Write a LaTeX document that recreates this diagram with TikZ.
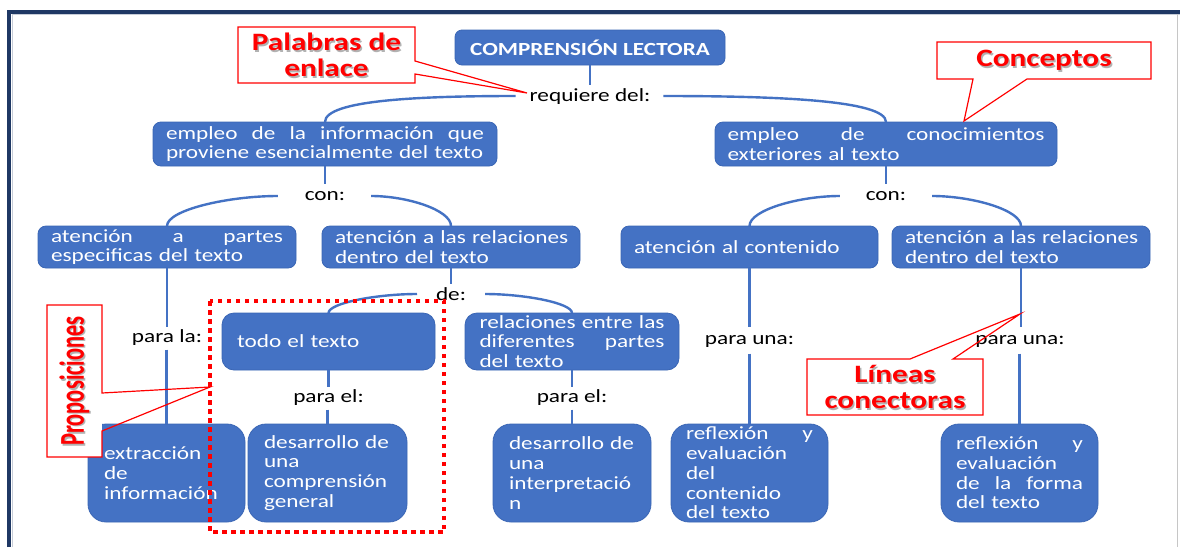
\documentclass[tikz,border=0pt]{standalone}
\usepackage{fontspec}
\usepackage{graphicx}
\setmainfont{Carlito}[FakeStretch=1.25]
\newfontfamily\propfont{Carlito}[FakeStretch=1.0]
\usetikzlibrary{calc}
\definecolor{boxblue}{HTML}{4472C4}
\definecolor{boxedge}{HTML}{3A66B5}
\definecolor{navy}{HTML}{1F3864}
\definecolor{callred}{HTML}{FF0000}
\newcommand{\jl}[2]{\leavevmode\hbox to #1{\spaceskip=0.2em plus 1fil\relax #2}}
\hyphenpenalty=10000
\exhyphenpenalty=10000
\begin{document}
\begin{tikzpicture}[x=1pt,y=-1pt,
  every node/.style={inner sep=0pt, outer sep=0pt},
  cbox/.style={rectangle, rounded corners=#1, fill=boxblue, draw=boxedge, line width=0.8pt,
    text=white, align=left, font=\fontsize{18.6}{19.75}\selectfont},
  cbox/.default=8pt,
  word/.style={text=black, font=\fontsize{18.6}{20}\selectfont, text height=13pt, text depth=4pt,
    inner xsep=0pt, inner ysep=4pt},
  link/.style={draw=boxblue, line width=2.4pt},
  callbox/.style={rectangle},
  callout/.style={draw=callred, line width=1.2pt, line join=miter},
  redtxt/.style={text=callred, align=center, font=\fontsize{25}{26}\selectfont\bfseries},
  redshadow/.style={text=black!30, align=center, font=\fontsize{25}{26}\selectfont\bfseries},
]
\useasboundingbox (0,0) rectangle (1180,547);
\fill[white] (0,0) rectangle (1180,547);
% frame
\draw[navy!25, line width=0.8pt] (12.5,547) -- (12.5,14.5) -- (1180,14.5);
\draw[navy, line width=3.6pt] (9.2,547) -- (9.2,11.7) -- (1180,11.7);
\draw[gray!45, line width=1pt] (1177,14) -- (1177,547);

% concept boxes
\node[cbox=7pt, minimum width=270pt, minimum height=35pt, align=center,
  font=\fontsize{18.5}{20}\selectfont\bfseries] (title) at (590,47.5) {COMPRENSIÓN LECTORA};
\node[cbox, minimum width=344pt, minimum height=44pt, text width=318pt] (A) at (325,144)
  {\jl{318pt}{empleo de la información que}\\\mbox{proviene esencialmente del texto}};
\node[cbox, minimum width=342pt, minimum height=44pt, text width=317pt] (B) at (886,144)
  {\jl{317pt}{empleo de conocimientos}\\exteriores al texto};
\node[cbox, minimum width=258pt, minimum height=42pt, text width=232pt] (C) at (167,247)
  {\jl{232pt}{atención a partes}\\\mbox{especificas del texto}};
\node[cbox, minimum width=258pt, minimum height=42pt, text width=232pt] (D) at (451,247)
  {\mbox{atención a las relaciones}\\dentro del texto};
\node[cbox, minimum width=257pt, minimum height=42pt, text width=231pt] (E) at (749.5,247)
  {\mbox{atención al contenido}};
\node[cbox, minimum width=258pt, minimum height=42pt, text width=232pt] (F) at (1021,247)
  {\mbox{atención a las relaciones}\\dentro del texto};
\node[cbox=12pt, minimum width=213pt, minimum height=57pt, text width=183pt] (G) at (328.5,341.5)
  {todo el texto};
\node[cbox=12pt, minimum width=214pt, minimum height=57pt, text width=185pt] (H) at (572,341.5)
  {\jl{185pt}{relaciones entre las}\\\jl{185pt}{diferentes partes}\\del texto};
\node[cbox=18pt, minimum width=157pt, minimum height=98pt, text width=125pt] (I) at (166.5,473)
  {extracción\\de\\\mbox{información}};
\node[cbox=18pt, minimum width=159pt, minimum height=98pt, text width=127pt] (J) at (327.5,473)
  {\mbox{desarrollo de}\\una\\\mbox{comprensión}\\general};
\node[cbox=18pt, minimum width=158pt, minimum height=98pt, text width=126pt] (K) at (572,473)
  {\mbox{desarrollo de}\\una\\\mbox{interpretació}\\n};
\node[cbox=18pt, minimum width=157pt, minimum height=98pt, text width=127pt] (L) at (749.5,473)
  {\jl{127pt}{reflexión y}\\evaluación\\del\\contenido\\\mbox{del texto}};
\node[cbox=18pt, minimum width=157pt, minimum height=98pt, text width=127pt] (M) at (1019.5,473)
  {\jl{127pt}{reflexión y}\\evaluación\\\jl{127pt}{de la forma}\\\mbox{del texto}};

% linking words
\node[word] (req) at (590,97) {requiere del:};
\node[word] (con1) at (325,196) {con:};
\node[word] (con2) at (886,196) {con:};
\node[word] (de) at (451,296) {de:};
\node[word, inner ysep=3pt] (parala) at (167,338) {para la:};
\node[word, inner ysep=3pt] (parael1) at (328.5,398) {para el:};
\node[word, inner ysep=3pt] (parael2) at (572,398) {para el:};
\node[word, inner ysep=5pt] (paraunaL) at (749.5,340) {para una:};
\node[word, inner ysep=5pt] (paraunaR) at (1020,340) {para una:};

% connectors
\coordinate (rl) at ($(req.west)+(-14,-1)$);
\coordinate (rr) at ($(req.east)+(13,-1)$);
\coordinate (c1l) at ($(con1.west)+(-27,0)$);
\coordinate (c1r) at ($(con1.east)+(26,0)$);
\coordinate (c2l) at ($(con2.west)+(-26,0)$);
\coordinate (c2r) at ($(con2.east)+(26,0)$);
\coordinate (dl) at ($(de.west)+(-19,-2)$);
\coordinate (dr) at ($(de.east)+(19,-2)$);

\draw[link] (title.south) -- (title.south |- req.north);
\draw[link] (rl) .. controls ($(rl)!0.5!(A.north |- rl)$) and ($(A.north)+(0,-22)$) .. (A.north);
\draw[link] (rr) .. controls ($(rr)!0.5!(B.north |- rr)$) and ($(B.north)+(0,-22)$) .. (B.north);

\draw[link] (A.south) -- (A.south |- con1.north);
\draw[link] (c1l) .. controls ($(c1l)!0.45!(C.north |- c1l)$) and ($(C.north)+(0,-16)$) .. (C.north);
\draw[link] (c1r) .. controls ($(c1r)!0.45!(D.north |- c1r)$) and ($(D.north)+(0,-16)$) .. (D.north);

\draw[link] (B.south) -- (B.south |- con2.north);
\draw[link] (c2l) .. controls ($(c2l)!0.45!(E.north |- c2l)$) and ($(E.north)+(0,-16)$) .. (E.north);
\draw[link] (c2r) .. controls ($(c2r)!0.45!(F.north |- c2r)$) and ($(F.north)+(0,-16)$) .. (F.north);

\draw[link] (C.south) -- (C.south |- parala.north);
\draw[link] (I.north |- parala.south) -- (I.north);

\draw[link] (D.south) -- (D.south |- de.north);
\draw[link] (dl) .. controls ($(dl)!0.45!(G.north |- dl)$) and ($(G.north)+(0,-10)$) .. (G.north);
\draw[link] (dr) .. controls ($(dr)!0.45!(H.north |- dr)$) and ($(H.north)+(0,-10)$) .. (H.north);

\draw[link] (G.south) -- (G.south |- parael1.north);
\draw[link] (J.north |- parael1.south) -- (J.north);
\draw[link] (H.south) -- (H.south |- parael2.north);
\draw[link] (K.north |- parael2.south) -- (K.north);

\draw[link] (E.south) -- (E.south |- paraunaL.north);
\draw[link] (L.north |- paraunaL.south) -- (L.north);
\draw[link] (F.south) -- (F.south |- paraunaR.north);
\draw[link] (M.north |- paraunaR.south) -- (M.north);

% callout: Palabras de enlace
\node[callbox, minimum width=177pt, minimum height=56pt] (pal) at (326.5,55) {};
\coordinate (palb1) at (415,61);
\coordinate (palb2) at (415,74);
\coordinate (paltip) at (527,93);
\fill[white] (pal.north west) rectangle (pal.south east);
\draw[callout] (pal.north west) -- (pal.north east) -- (pal.east |- palb1) -- (paltip)
  -- (pal.east |- palb2) -- (pal.south east) -- (pal.south west) -- cycle;
\node[redshadow] (palS) at ($(pal)+(1.5,1.5)$) {Palabras de\\enlace};
\node[redtxt] (palT) at (pal) {Palabras de\\enlace};

% callout: Conceptos
\node[callbox, minimum width=214pt, minimum height=37pt] (conc) at (1044,60.5) {};
\coordinate (concb1) at (973,79);
\coordinate (concb2) at (1027,79);
\coordinate (conctip) at (964,121);
\fill[white] (conc.north west) rectangle (conc.south east);
\draw[callout] (conc.north west) -- (conc.north east) -- (conc.south east) -- (concb2)
  -- (conctip) -- (concb1) -- (conc.south west) -- cycle;
\node[redshadow] (concS) at ($(conc)+(1.5,1.5)$) {Conceptos};
\node[redtxt] (concT) at (conc) {Conceptos};

% callout: Proposiciones
\node[callbox, minimum width=55pt, minimum height=152pt] (prop) at (74.5,381) {};
\coordinate (propb1) at (102,393);
\coordinate (propb2) at (102,431);
\coordinate (proptip) at (210,387);
\fill[white] (prop.north west) rectangle (prop.south east);
\draw[callout] (prop.north west) -- (prop.north east) -- (prop.east |- propb1) -- (proptip)
  -- (prop.east |- propb2) -- (prop.south east) -- (prop.south west) -- cycle;
\node[rotate=90, text=black!30] (propS) at ($(prop)+(1.5,1.5)$)
  {\propfont\bfseries\fontsize{22.5}{24}\selectfont\scalebox{1}[1.55]{Proposiciones}};
\node[rotate=90, text=callred] (propT) at (prop)
  {\propfont\bfseries\fontsize{22.5}{24}\selectfont\scalebox{1}[1.55]{Proposiciones}};

% callout: Lineas conectoras
\node[callbox, minimum width=176pt, minimum height=56pt] (lin) at (895,387) {};
\coordinate (linb1) at (910,359);
\coordinate (linb2) at (953,359);
\coordinate (lintip) at (1020,314);
\fill[white] (lin.north west) rectangle (lin.south east);
\draw[callout] (lin.north west) -- (linb1) -- (lintip) -- (linb2) -- (lin.north east)
  -- (lin.south east) -- (lin.south west) -- cycle;
\node[redshadow] (linS) at ($(lin)+(1.5,1.5)$) {Líneas\\conectoras};
\node[redtxt] (linT) at (lin) {Líneas\\conectoras};

% dotted frame around a proposition
\draw[callred, line width=4.5pt, dash pattern=on 4.5pt off 4.5pt] (210,301) rectangle (444,532);
\end{tikzpicture}
\end{document}
